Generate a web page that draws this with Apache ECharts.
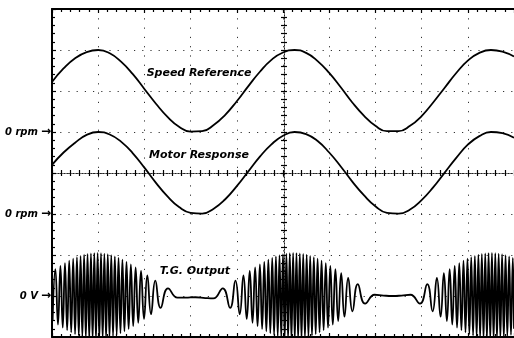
<!DOCTYPE html>
<html>
<head>
<meta charset="utf-8">
<script src="https://cdn.jsdelivr.net/npm/echarts@6/dist/echarts.min.js"></script>
<style>
html, body { margin: 0; padding: 0; background: #fff; }
#scope { width: 514px; height: 338px; }
</style>
</head>
<body>
<div id="scope"></div>
<script>
// Horizontal position of the slow traces, in screen divisions.
const timeDivs = [
  0, 0.25, 0.5, 0.75, 1, 1.25, 1.5, 1.75, 2, 2.25, 2.5, 2.75, 3, 3.25, 3.5, 3.75,
  4, 4.25, 4.5, 4.75, 5, 5.25, 5.5, 5.75, 6, 6.25, 6.5, 6.75, 7, 7.25, 7.5, 7.75,
  8, 8.25, 8.5, 8.75, 9, 9.25, 9.5, 9.75, 10
];

// Channel 1: speed reference (screen divisions, 0 rpm at 5 div).
const speedReference = [
  6.22, 6.55, 6.80, 6.95, 7.00, 6.92, 6.71, 6.41, 6.05, 5.69, 5.37, 5.13, 5.01, 5.02, 5.17, 5.42,
  5.75, 6.12, 6.47, 6.76, 6.94, 7.00, 6.93, 6.73, 6.44, 6.09, 5.72, 5.40, 5.15, 5.02, 5.02, 5.15,
  5.39, 5.72, 6.08, 6.44, 6.74, 6.93, 7.00, 6.96, 6.84
];

// Channel 2: motor response (screen divisions, 0 rpm at 3 div).
const motorResponse = [
  4.20, 4.50, 4.74, 4.93, 5.00, 4.94, 4.76, 4.48, 4.13, 3.76, 3.43, 3.17, 3.03, 3.01, 3.13, 3.36,
  3.68, 4.04, 4.40, 4.70, 4.91, 5.00, 4.95, 4.78, 4.50, 4.16, 3.79, 3.46, 3.19, 3.03, 3.01, 3.11,
  3.34, 3.65, 4.01, 4.37, 4.69, 4.90, 5.00, 4.97, 4.86
];

// Channel 3: tachogenerator output, turning points of the waveform (0 V at 1 div).
const tgTime = [
  0.0127, 0.0728, 0.1293, 0.1821, 0.2325, 0.2808, 0.3276, 0.3722, 0.4157, 0.4582,
  0.4996, 0.5397, 0.5795, 0.6185, 0.6569, 0.6948, 0.7323, 0.7694, 0.8062, 0.8429,
  0.8793, 0.9155, 0.9517, 0.9879, 1.0241, 1.0603, 1.0968, 1.1334, 1.1703, 1.2073,
  1.2448, 1.2828, 1.3211, 1.3601, 1.4000, 1.4401, 1.4815, 1.5239, 1.5675, 1.6121,
  1.6588, 1.7071, 1.7575, 1.8103, 1.8668, 1.9269, 1.9920, 2.0631, 2.1433, 2.2364,
  2.3513, 2.5106, 2.7155, 2.8879, 3.1034, 3.3190, 3.4914,
  3.6963, 3.8556, 3.9705, 4.0636, 4.1438, 4.2149, 4.2800, 4.3401, 4.3966, 4.4494,
  4.4998, 4.5481, 4.5948, 4.6394, 4.6830, 4.7254, 4.7668, 4.8069, 4.8468, 4.8858,
  4.9241, 4.9621, 4.9996, 5.0366, 5.0735, 5.1101, 5.1466, 5.1828, 5.2190, 5.2552,
  5.2914, 5.3276, 5.3640, 5.4007, 5.4375, 5.4746, 5.5121, 5.5500, 5.5884, 5.6274,
  5.6672, 5.7073, 5.7487, 5.7912, 5.8347, 5.8793, 5.9261, 5.9744, 6.0248, 6.0776,
  6.1341, 6.1942, 6.2593, 6.3304, 6.4106, 6.5037, 6.6185, 6.7778,
  6.9828, 7.1767, 7.3707, 7.5647, 7.7586,
  7.9636, 8.1228, 8.2377, 8.3308, 8.4110, 8.4821, 8.5472, 8.6073, 8.6638, 8.7166,
  8.7670, 8.8153, 8.8621, 8.9067, 8.9502, 8.9927, 9.0341, 9.0741, 9.1140, 9.1530,
  9.1914, 9.2293, 9.2668, 9.3039, 9.3407, 9.3774, 9.4138, 9.4500, 9.4862, 9.5224,
  9.5586, 9.5948, 9.6313, 9.6679, 9.7047, 9.7418, 9.7793, 9.8172, 9.8556, 9.8946,
  9.9345, 9.9746, 10.0
];
const tgOutput = [
  0.390, 1.655, 0.303, 1.735, 0.230, 1.802, 0.167, 1.860, 0.115, 1.908,
  0.071, 1.948, 0.034, 1.981, 0.005, 2.008, -0.018, 2.027, -0.035, 2.041,
  -0.045, 2.048, -0.050, 2.050, -0.048, 2.045, -0.041, 2.035, -0.027, 2.018,
  -0.008, 1.995, 0.019, 1.966, 0.052, 1.929, 0.092, 1.885, 0.140, 1.833,
  0.198, 1.770, 0.265, 1.697, 0.345, 1.610, 0.440, 1.505, 0.557, 1.373,
  0.710, 1.188, 0.96, 0.96, 0.97, 0.95, 0.94,
  1.188, 0.710, 1.373, 0.557, 1.505, 0.440, 1.610, 0.345, 1.697, 0.265,
  1.770, 0.198, 1.833, 0.140, 1.885, 0.092, 1.929, 0.052, 1.966, 0.019,
  1.995, -0.008, 2.018, -0.027, 2.035, -0.041, 2.045, -0.048, 2.050, -0.050,
  2.048, -0.045, 2.041, -0.035, 2.027, -0.018, 2.008, 0.005, 1.981, 0.034,
  1.948, 0.071, 1.908, 0.115, 1.860, 0.167, 1.802, 0.230, 1.735, 0.303,
  1.655, 0.390, 1.560, 0.495, 1.443, 0.627, 1.290, 0.812,
  1.03, 1.01, 1.00, 1.01, 1.03,
  0.812, 1.290, 0.627, 1.443, 0.495, 1.560, 0.390, 1.655, 0.303, 1.735,
  0.230, 1.802, 0.167, 1.860, 0.115, 1.908, 0.071, 1.948, 0.034, 1.981,
  0.005, 2.008, -0.018, 2.027, -0.035, 2.041, -0.045, 2.048, -0.050, 2.050,
  -0.048, 2.045, -0.041, 2.035, -0.027, 2.018, -0.008, 1.995, 0.019, 1.966,
  0.052, 1.929, 0.20
];

// Ground markers on the left edge of the screen.
const markerLevels = [5, 3, 1];
const markerTexts = ['0 rpm', '0 rpm', '0 V'];

// Trace captions.
const traceNames = ['Speed Reference', 'Motor Response', 'T.G. Output'];

const INK = '#000';
const captionFont = 'italic bold 11px "DejaVu Sans", sans-serif';

function pairs(xs, ys) {
  return xs.map((x, i) => [x, ys[i]]);
}

function frameAxis(kind, position, extra) {
  const isX = kind === 'x';
  return Object.assign({
    type: 'value',
    min: 0,
    max: isX ? 10 : 8,
    interval: 1,
    position: position,
    axisLine: { show: true, onZero: false, lineStyle: { color: INK, width: 2 } },
    axisTick: { show: true, inside: true, length: 4, lineStyle: { color: INK, width: 1.2 } },
    minorTick: { show: true, splitNumber: 5, length: 3, lineStyle: { color: INK, width: 1.2 } },
    axisLabel: { show: false },
    splitLine: { show: false }
  }, extra || {});
}

function centreAxis(kind, inside) {
  const isX = kind === 'x';
  return {
    type: 'value',
    min: 0,
    max: isX ? 10 : 8,
    interval: 1,
    position: isX ? 'bottom' : 'left',
    offset: isX ? -164 : -232,
    axisLine: { show: true, onZero: false, lineStyle: { color: '#222', width: 1, type: [1, 2] } },
    axisTick: { show: true, inside: inside, length: 3, lineStyle: { color: INK, width: 1.2 } },
    minorTick: { show: true, splitNumber: 5, length: 3, lineStyle: { color: INK, width: 1.2 } },
    axisLabel: { show: false },
    splitLine: { show: false }
  };
}

const chart = echarts.init(document.getElementById('scope'), null, { renderer: 'canvas' });

chart.setOption({
  animation: false,
  backgroundColor: '#fff',
  grid: { left: 52, top: 9, width: 464, height: 328, containLabel: false },
  xAxis: [
    frameAxis('x', 'bottom', {
      splitLine: { show: true, lineStyle: { color: '#333', width: 1, type: [1.2, 8.08] } }
    }),
    frameAxis('x', 'top'),
    centreAxis('x', true),
    centreAxis('x', false)
  ],
  yAxis: [
    frameAxis('y', 'left', {
      splitLine: { show: true, lineStyle: { color: '#333', width: 1, type: [1.2, 7] } },
      axisLabel: {
        show: true,
        margin: 1,
        color: INK,
        formatter: function (value) {
          const k = markerLevels.indexOf(value);
          return k < 0 ? '' : '{t|' + markerTexts[k] + '}{a|\u2192}';
        },
        rich: {
          t: { fontSize: 10, fontStyle: 'italic', fontWeight: 'bold', fontFamily: '"DejaVu Sans", sans-serif', color: INK, padding: [0, 3, 0, 0] },
          a: { fontSize: 12, fontWeight: 'bold', fontFamily: '"DejaVu Sans", sans-serif', color: INK }
        }
      }
    }),
    centreAxis('y', true),
    centreAxis('y', false)
  ],
  series: [
    {
      name: traceNames[0],
      type: 'line',
      data: pairs(timeDivs, speedReference),
      smooth: true,
      symbol: 'none',
      lineStyle: { color: INK, width: 1.8 }
    },
    {
      name: traceNames[1],
      type: 'line',
      data: pairs(timeDivs, motorResponse),
      smooth: true,
      symbol: 'none',
      lineStyle: { color: INK, width: 1.8 }
    },
    {
      name: traceNames[2],
      type: 'line',
      data: pairs(tgTime, tgOutput),
      smooth: 0.5,
      symbol: 'none',
      clip: true,
      lineStyle: { color: INK, width: 1.8 }
    }
  ],
  graphic: [
    { type: 'text', x: 199, y: 73, style: { text: traceNames[0], font: captionFont, fill: INK, align: 'center', verticalAlign: 'middle' } },
    { type: 'text', x: 199, y: 155, style: { text: traceNames[1], font: captionFont, fill: INK, align: 'center', verticalAlign: 'middle' } },
    { type: 'text', x: 195, y: 271, style: { text: traceNames[2], font: captionFont, fill: INK, align: 'center', verticalAlign: 'middle' } }
  ]
});
</script>
</body>
</html>
